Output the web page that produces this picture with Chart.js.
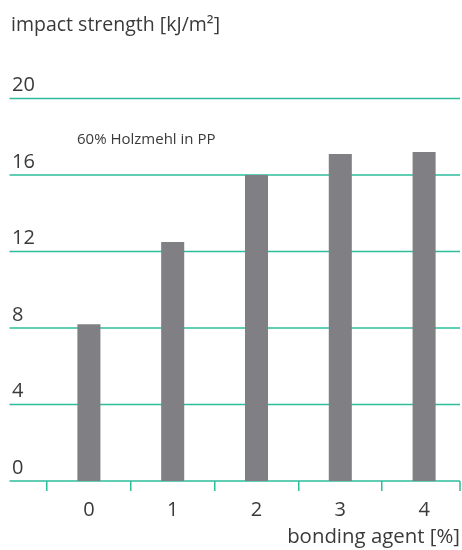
<!DOCTYPE html>
<html>
<head>
<meta charset="utf-8">
<script src="https://cdn.jsdelivr.net/npm/chart.js@4"></script>
<style>
  html, body { margin: 0; padding: 0; background: #fff; overflow: hidden; }
  #wrap { width: 462px; height: 550px; overflow: hidden; }
  canvas { display: block; }
</style>
</head>
<body>
<div id="wrap"><canvas id="c" width="470" height="550"></canvas></div>
<script>
// Bonding agent content [%] and notched impact strength [kJ/m²]
const categories = ['0', '1', '2', '3', '4'];
const impactStrength = [8.2, 12.5, 16.0, 17.1, 17.2];
const yTicks = [0, 4, 8, 12, 16, 20];

const yTitle = 'impact strength [kJ/m²]';
const xTitle = 'bonding agent [%]';
const note = '60% Holzmehl in PP';

const TEAL = '#2dbd9b';
const BAR = '#808084';
const TEXT = '#3a3a3a';
const FONT = '"Open Sans", sans-serif';

// Horizontal rules run past the plot area on the left; texts placed around the plot
const decor = {
  id: 'decor',
  beforeDatasetsDraw(chart) {
    const { ctx } = chart;
    const y = chart.scales.y;
    ctx.save();
    ctx.strokeStyle = TEAL;
    ctx.lineWidth = 1.5;
    yTicks.forEach(v => {
      const py = y.getPixelForValue(v);
      ctx.beginPath();
      ctx.moveTo(9.5, py);
      ctx.lineTo(460, py);
      ctx.stroke();
    });
    const y0 = y.getPixelForValue(0);
    ctx.beginPath();
    ctx.moveTo(460, y0);
    ctx.lineTo(460, y0 + 10);
    ctx.stroke();
    ctx.restore();
  },
  afterDraw(chart) {
    const { ctx } = chart;
    ctx.save();
    ctx.fillStyle = TEXT;
    ctx.textBaseline = 'alphabetic';
    ctx.font = '19.5px ' + FONT;
    ctx.textAlign = 'left';
    ctx.fillText(yTitle, 11, 31);
    ctx.font = '20.4px ' + FONT;
    ctx.textAlign = 'right';
    ctx.fillText(xTitle, 460, 543);
    ctx.font = '15px ' + FONT;
    ctx.textAlign = 'left';
    ctx.fillText(note, 77, 144);
    ctx.restore();
  }
};

new Chart(document.getElementById('c'), {
  type: 'bar',
  data: {
    labels: categories,
    datasets: [{
      data: impactStrength,
      backgroundColor: BAR,
      borderWidth: 0,
      categoryPercentage: 1,
      barPercentage: 0.275
    }]
  },
  options: {
    responsive: false,
    animation: false,
    layout: { padding: { left: 12, right: 4, top: 98.5, bottom: 0 } },
    plugins: { legend: { display: false }, tooltip: { enabled: false } },
    scales: {
      x: {
        grid: {
          display: true,
          drawOnChartArea: false,
          drawTicks: true,
          tickLength: 10,
          color: TEAL,
          lineWidth: 1.5,
          offset: true
        },
        border: { display: false },
        ticks: { color: TEXT, font: { family: FONT, size: 20 }, padding: 7 },
        afterFit(scale) { scale.height = 69; }
      },
      y: {
        min: 0,
        max: 20,
        afterBuildTicks(scale) { scale.ticks = yTicks.map(v => ({ value: v })); },
        grid: { display: false, drawTicks: false },
        border: { display: false },
        ticks: {
          color: TEXT,
          font: { family: FONT, size: 20 },
          crossAlign: 'far',
          labelOffset: -13,
          padding: 0
        },
        afterFit(scale) { scale.width = 35; }
      }
    }
  },
  plugins: [decor]
});
</script>
</body>
</html>
